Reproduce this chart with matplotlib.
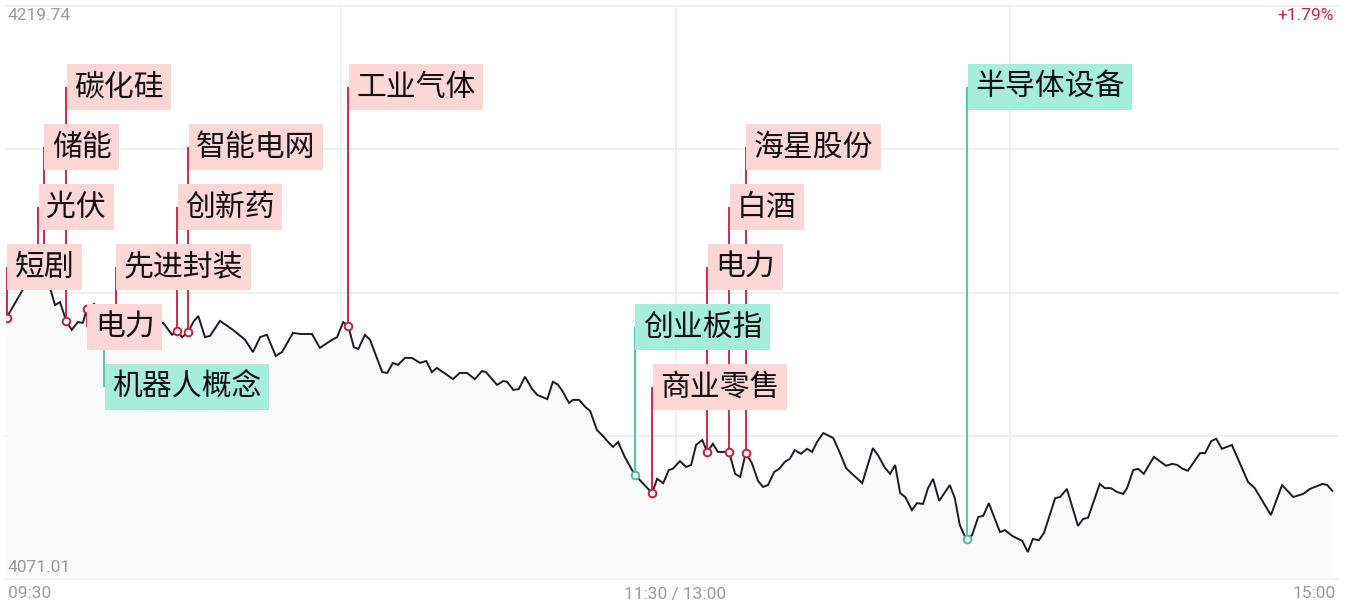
import matplotlib
matplotlib.use("Agg")
import matplotlib.pyplot as plt
import numpy as np

# ---------------- data ----------------
# trading minutes after 09:30 (11:30/13:00 joined at minute 120)
minutes = [0.0, 3.0, 4.0, 5.1, 5.7, 6.7, 7.8, 8.7, 9.6, 10.7, 11.7, 12.8, 13.7, 14.4, 15.7,
           17.5, 18.6, 19.6, 20.7, 22.7, 24.8, 26.8, 28.1, 29.7, 30.6, 31.5, 32.6, 33.5, 34.4,
           35.6, 36.5, 38.3, 40.6, 42.8, 44.2, 45.5, 46.7, 48.3, 49.4, 51.4, 52.7, 54.8, 56.2,
           58.4, 59.3, 60.4, 61.3, 62.3, 63.1, 64.3, 65.2, 67.4, 68.3, 69.3, 70.2, 71.5, 72.7,
           74.2, 75.3, 76.3, 77.2, 80.1, 81.3, 82.6, 84.0, 85.3, 86.0, 88.0, 89.1, 89.8, 90.9,
           91.9, 93.0, 94.3, 95.2, 97.0, 98.0, 98.9, 99.8, 100.9, 101.6, 102.7, 103.8, 104.7,
           105.9, 106.8, 108.1, 108.8, 109.7, 110.9, 112.7, 113.6, 115.8, 116.7, 117.8, 118.8,
           119.5, 120.8, 121.9, 122.8, 123.7, 124.8, 125.7, 126.7, 127.6, 128.9, 129.6, 130.7,
           131.6, 132.6, 133.7, 134.8, 135.7, 136.6, 137.7, 138.6, 139.6, 140.5, 141.4, 142.5,
           143.6, 144.5, 145.4, 146.5, 148.3, 149.5, 150.6, 151.3, 153.5, 155.4, 156.3, 157.6,
           158.5, 159.4, 160.3, 161.2, 162.4, 163.3, 164.4, 165.3, 166.2, 167.3, 169.2, 170.1,
           171.0, 171.8, 172.3, 173.2, 174.3, 175.2, 176.2, 178.2, 179.1, 180.4, 182.2, 183.2,
           184.1, 185.2, 186.1, 188.1, 189.0, 190.2, 192.2, 193.1, 194.0, 196.1, 197.0, 198.1,
           199.2, 200.3, 201.0, 202.1, 203.0, 204.0, 205.8, 208.0, 209.1, 210.0, 211.0, 211.9,
           214.1, 215.0, 216.1, 217.0, 218.0, 219.8, 222.7, 223.9, 226.8, 228.8, 230.8, 232.6,
           233.8, 236.1, 236.9, 237.8]
prices = [4138.8, 4146.3, 4149.7, 4152.8, 4153.0, 4152.3, 4146.6, 4142.1, 4142.9, 4138.0, 4135.7,
          4137.7, 4137.5, 4141.1, 4142.4,
          4140.3, 4139.0, 4139.8, 4138.8, 4138.2, 4138.8, 4137.2, 4137.5, 4134.4, 4135.4, 4133.8,
          4135.1, 4137.7, 4139.3,
          4133.8, 4134.1, 4138.0, 4135.7, 4133.1, 4129.9, 4133.8, 4134.4, 4128.9, 4129.9, 4134.9,
          4134.6, 4134.6, 4131.0,
          4133.1, 4133.8, 4137.7, 4136.7, 4131.2, 4130.7, 4134.4, 4133.1, 4124.7, 4124.5, 4127.1,
          4126.6, 4128.4, 4128.4,
          4127.1, 4127.6, 4124.7, 4125.8, 4122.9, 4124.5, 4124.5, 4122.9, 4125.0, 4124.7, 4121.4,
          4122.4, 4122.2, 4120.1,
          4120.3, 4123.5, 4120.3, 4118.8, 4117.7, 4122.2, 4121.5, 4119.6, 4116.7, 4117.5, 4117.5,
          4115.7, 4114.6,
          4109.7, 4108.4, 4106.3, 4105.3, 4106.6, 4102.7, 4098.0, 4096.7, 4093.3, 4097.0, 4095.9,
          4099.3,
          4099.6, 4101.6, 4100.1, 4100.6, 4105.8, 4107.1, 4104.0, 4106.1, 4104.0, 4104.0, 4104.0,
          4098.3,
          4097.5, 4103.7, 4101.1, 4096.5, 4094.9, 4095.4, 4098.8, 4099.6, 4101.4, 4102.2, 4104.5,
          4103.5,
          4104.8, 4104.0, 4106.6, 4108.9, 4107.6, 4103.7, 4099.8, 4098.8, 4095.9, 4105.0, 4103.2,
          4099.8,
          4098.3, 4100.6, 4093.3, 4092.3, 4088.9, 4090.7, 4090.5, 4094.6, 4097.0, 4091.3, 4095.4,
          4092.0,
          4085.0, 4082.4, 4081.4, 4082.4, 4087.1, 4087.4, 4090.7, 4083.2, 4083.7, 4082.2, 4080.9,
          4078.0,
          4081.4, 4081.1, 4083.0, 4092.0, 4092.3, 4094.4, 4084.8, 4086.6, 4086.9, 4095.7, 4094.6,
          4094.6,
          4093.6, 4093.1, 4094.6, 4099.3, 4099.6, 4098.3, 4102.7, 4100.4, 4100.9, 4100.6, 4099.6,
          4099.1,
          4103.7, 4103.7, 4106.8, 4107.4, 4104.8, 4105.8, 4096.2, 4094.6, 4087.6, 4095.4, 4092.3,
          4093.1,
          4094.4, 4095.7, 4095.4, 4093.9]

y_high = 4219.74
y_low = 4071.01
pct_high = "+1.79%"
x_labels = ["09:30", "11:30 / 13:00", "15:00"]

# annotations: text, minute, kind (r = red, g = green), row (1 = top)
ann_text = ["短剧", "光伏", "储能", "碳化硅", "电力", "机器人概念", "先进封装", "创新药",
            "智能电网", "工业气体", "创业板指", "商业零售", "电力", "白酒", "海星股份", "半导体设备"]
ann_min = [0.0, 5.7, 6.7, 10.7, 14.4, 17.5, 19.6, 30.6, 32.6, 61.3, 112.7, 115.8, 125.7,
           129.6, 132.6, 172.3]
ann_kind = ["r", "r", "r", "r", "r", "g", "r", "r", "r", "r", "g", "r", "r", "r", "r", "g"]
ann_row = [4, 3, 2, 1, 5, 6, 4, 3, 2, 1, 5, 6, 4, 3, 2, 1]

# ---------------- style ----------------
plt.rcParams['font.family'] = ['Noto Sans CJK SC', 'DejaVu Sans']
W, H = 1359, 611
fig = plt.figure(figsize=(W / 100, H / 100), dpi=100)
fig.patch.set_facecolor("white")
ax = fig.add_axes([6 / W, 1 - 579 / H, (1338 - 6) / W, (579 - 6) / H])
ax.set_facecolor("white")

px_per_min = 5.575
xmin = (6 - 6.5) / px_per_min
xmax = (1338 - 6.5) / px_per_min
ax.set_xlim(xmin, xmax)
ax.set_ylim(y_low, y_high)
for s in ax.spines.values():
    s.set_visible(False)
ax.set_xticks([])
ax.set_yticks([])

grid_c = "#ededed"
for k in range(5):
    ax.axhline(y_low + k * (y_high - y_low) / 4, color=grid_c, lw=1.2, zorder=0, clip_on=False)
for m in (60, 120, 180):
    ax.axvline(m, color=grid_c, lw=1.2, zorder=0)

t = np.array(minutes)
p = np.array(prices)
ax.fill_between(t, p, y_low, color="#fafafb", zorder=1, lw=0)
ax.plot(t, p, color="#1c1c28", lw=1.4, zorder=3, solid_joinstyle="miter")

red_line = "#c41e3a"
green_line = "#4dbf98"
red_bg = "#fdd6d6"
green_bg = "#a6eedb"

rows_center_px = {1: 87, 2: 147, 3: 207, 4: 267, 5: 327, 6: 387}


def row_to_price(r):
    frac = 1 - (rows_center_px[r] - 6) / 573
    return y_low + frac * (y_high - y_low)


def price_at(m):
    i = int(np.argmin(np.abs(t - m)))
    return p[i]


# vertical lines + markers
for txt, m, kd, r in zip(ann_text, ann_min, ann_kind, ann_row):
    lc = red_line if kd == "r" else green_line
    py = price_at(m)
    ly = row_to_price(r)
    ax.plot([m, m], [py, ly], color=lc, lw=1.3, zorder=4, solid_capstyle="butt")
for txt, m, kd, r in zip(ann_text, ann_min, ann_kind, ann_row):
    lc = red_line if kd == "r" else green_line
    ax.plot([m], [price_at(m)], marker="o", ms=5.5, mfc="white", mec=lc, mew=1.4, zorder=5)

# label boxes
fs = 21.5
pad = 0.25
for txt, m, kd, r in zip(ann_text, ann_min, ann_kind, ann_row):
    bg = red_bg if kd == "r" else green_bg
    ax.annotate(txt, xy=(m, row_to_price(r)), xytext=(pad * fs + 0.4, 0), textcoords="offset points",
                ha="left", va="center", fontsize=fs, color="#111111",
                bbox=dict(boxstyle=f"square,pad={pad}", fc=bg, ec="none"), zorder=6,
                annotation_clip=False)

# value / time labels
num_font = ['Roboto', 'DejaVu Sans']
gray = "#9a9a9a"
fig.text(8 / W, 1 - 16 / H, f"{y_high:.2f}", family=num_font, fontsize=12.5, color=gray,
         ha="left", va="center")
fig.text(8 / W, 1 - 568 / H, f"{y_low:.2f}", family=num_font, fontsize=12.5, color=gray,
         ha="left", va="center")
fig.text(1334 / W, 1 - 16 / H, pct_high, family=num_font, fontsize=12.5, color="#d0243c",
         ha="right", va="center")
fig.text(8 / W, 1 - 594 / H, x_labels[0], family=num_font, fontsize=12.5, color=gray,
         ha="left", va="center")
fig.text(675 / W, 1 - 594 / H, x_labels[1], family=num_font, fontsize=12.5, color=gray,
         ha="center", va="center")
fig.text(1336 / W, 1 - 594 / H, x_labels[2], family=num_font, fontsize=12.5, color=gray,
         ha="right", va="center")

fig.savefig("out.png", dpi=100, facecolor="white")
